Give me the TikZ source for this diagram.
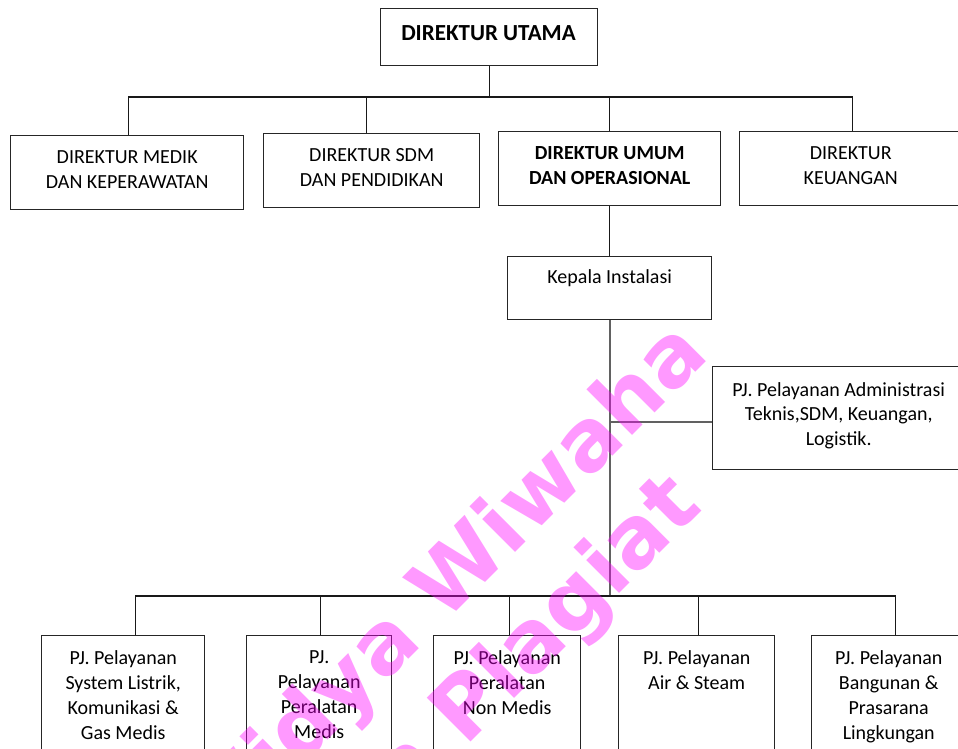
\documentclass[tikz,border=0pt]{standalone}
\usepackage{fontspec}
\setmainfont{Carlito}
\newfontfamily\wmfont{DejaVu Sans}
\usetikzlibrary{calc}
\definecolor{wmpink}{RGB}{255,0,255}
\begin{document}
\begin{tikzpicture}[x=1pt,y=-1pt,
  box/.style={draw=black!85, line width=1.4pt, rectangle, inner sep=0pt, anchor=north west},
  lbl/.style={anchor=north, align=center, inner sep=0pt, font=\fontsize{20}{24.5}\selectfont, execute at begin node=\strut},
  lblb/.style={anchor=north, align=center, inner sep=0pt, font=\fontsize{20}{25}\selectfont, execute at begin node=\strut},
  conn/.style={draw=black!90, line width=1.3pt},
  gconn/.style={draw=black!62, line width=1.8pt},
  wm/.style={text=wmpink, text opacity=0.4, font=\wmfont\bfseries\fontsize{85}{100}\selectfont, rotate=45, anchor=base east, inner sep=0pt}
]
\useasboundingbox (0,0) rectangle (958,749);
\fill[white] (0,0) rectangle (958,749);
\clip (0,0) rectangle (958,749);

% boxes
\node[box, minimum width=217pt, minimum height=57pt] (top) at (380,8) {};
\node[box, minimum width=233pt, minimum height=74pt] (d1) at (10,135) {};
\node[box, minimum width=216pt, minimum height=74pt] (d2) at (263,133) {};
\node[box, minimum width=222pt, minimum height=74pt] (d3) at (498,131) {};
\node[box, minimum width=222pt, minimum height=74pt] (d4) at (739,131) {};
\node[box, minimum width=204pt, minimum height=63pt] (kep) at (507,256) {};
\node[box, minimum width=252pt, minimum height=103pt] (adm) at (712,366) {};
\node[box, minimum width=163pt, minimum height=160pt] (b1) at (41,635) {};
\node[box, minimum width=145pt, minimum height=160pt] (b2) at (246,635) {};
\node[box, minimum width=147pt, minimum height=160pt] (b3) at (433,635) {};
\node[box, minimum width=156pt, minimum height=160pt] (b4) at (618,635) {};
\node[box, minimum width=154pt, minimum height=160pt] (b5) at (811,635) {};

% labels
\node[anchor=base, inner sep=0pt, font=\bfseries\fontsize{23}{28}\selectfont] (ttop) at (488.5,40.5) {DIREKTUR UTAMA};
\node[lbl] (td1) at ($(d1.north)+(0,15.6)$) {DIREKTUR MEDIK\\DAN KEPERAWATAN};
\node[lbl] (td2) at ($(d2.north)+(0,15.6)$) {DIREKTUR SDM\\DAN PENDIDIKAN};
\node[lbl, font=\bfseries\fontsize{20}{24.5}\selectfont] (td3) at ($(d3.north)+(0,15.6)$) {DIREKTUR UMUM\\DAN OPERASIONAL};
\node[lbl] (td4) at ($(d4.north)+(0,15.6)$) {DIREKTUR\\KEUANGAN};
\node[lbl] (tkep) at ($(kep.north)+(0,10.35)$) {Kepala Instalasi};
\node[lbl] (tadm) at ($(adm.north)+(0,16.35)$) {PJ. Pelayanan Administrasi\\Teknis,SDM, Keuangan,\\Logistik.};
\node[lblb] (tb1) at ($(b1.north)+(0,15)$) {PJ. Pelayanan\\System Listrik,\\Komunikasi \&\\Gas Medis};
\node[lblb] (tb2) at ($(b2.north)+(0,15)$) {PJ.\\Pelayanan\\Peralatan\\Medis};
\node[lblb] (tb3) at ($(b3.north)+(0,15)$) {PJ. Pelayanan\\Peralatan\\Non Medis};
\node[lblb] (tb4) at ($(b4.north)+(0,15)$) {PJ. Pelayanan\\Air \& Steam};
\node[lblb] (tb5) at ($(b5.north)+(0,15)$) {PJ. Pelayanan\\Bangunan \&\\Prasarana\\Lingkungan};

% connectors
\coordinate (bus1) at (0,97);
\coordinate (bus2) at (0,596);
\draw[conn] (top.south) -- (top.south |- bus1);
\draw[conn] ([xshift=1.5pt]d1.north) -- ([xshift=1.5pt]d1.north |- bus1) -- ([xshift=2pt]d4.north |- bus1) -- ([xshift=2pt]d4.north);
\draw[conn] ([xshift=-5pt]d2.north) -- ([xshift=-5pt]d2.north |- bus1);
\draw[conn] (d3.north) -- (d3.north |- bus1);
\draw[conn] (d3.south) -- (kep.north);
\draw[gconn] (kep.south) -- (kep.south |- bus2);
\draw[gconn] ([yshift=-3.5pt]adm.west -| kep.south) -- ([yshift=-3.5pt]adm.west);
\draw[conn] ([xshift=12.5pt]b1.north) -- ([xshift=12.5pt]b1.north |- bus2) -- ([xshift=7pt]b5.north |- bus2) -- ([xshift=7pt]b5.north);
\draw[conn] ([xshift=1.5pt]b2.north) -- ([xshift=1.5pt]b2.north |- bus2);
\draw[conn] ([xshift=2pt]b3.north) -- ([xshift=2pt]b3.north |- bus2);
\draw[conn] ([xshift=2pt]b4.north) -- ([xshift=2pt]b4.north |- bus2);

% watermark
\node[wm] (wm1) at (711,357) {Widya Wiwaha};
\node[wm] (wm2) at (704,509) {Jangan Plagiat};
\end{tikzpicture}
\end{document}
